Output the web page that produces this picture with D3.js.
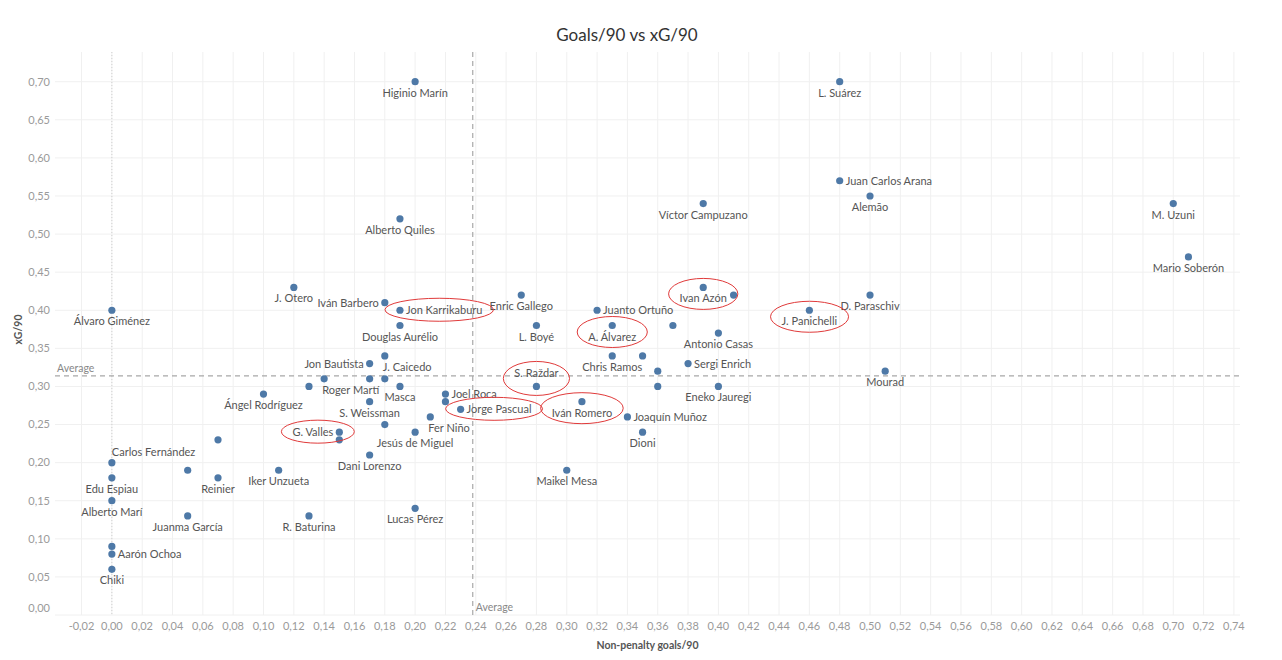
<!DOCTYPE html>
<html>
<head>
<meta charset="utf-8">
<script src="https://cdn.jsdelivr.net/npm/d3@7"></script>
<style>
  body { margin: 0; background: #fff; font-family: Lato, "Open Sans", sans-serif; }
</style>
</head>
<body>
<div id="chart"></div>
<script>
// Jugadors (cadena buida = punt sense etiqueta)
const players = [
    'Higinio Marín', 'L. Suárez', 'Juan Carlos Arana', 'Alemão', 'Víctor Campuzano', 'M. Uzuni',
    'Mario Soberón', 'Alberto Quiles', 'J. Otero', 'Álvaro Giménez', 'Iván Barbero', 'Jon Karrikaburu',
    'Douglas Aurélio', 'Enric Gallego', 'L. Boyé', 'Juanto Ortuño', 'A. Álvarez', '',
    'Ivan Azón', '', 'Antonio Casas', 'J. Panichelli', 'D. Paraschiv', 'Mourad',
    'Chris Ramos', '', 'Sergi Enrich', '', '', 'Eneko Jauregi',
    'S. Raždar', 'Iván Romero', 'Joaquín Muñoz', 'Dioni', 'Maikel Mesa', 'Jorge Pascual',
    'Joel Roca', '', 'Fer Niño', 'Jesús de Miguel', 'Lucas Pérez', 'Masca',
    'J. Caicedo', 'Jon Bautista', '', '', 'Roger Martí', '',
    'S. Weissman', '', 'G. Valles', '', 'Dani Lorenzo', '',
    'Ángel Rodríguez', 'Carlos Fernández', 'Edu Espiau', 'Alberto Marí', '', 'Aarón Ochoa',
    'Chiki', '', 'Reinier', 'Iker Unzueta', 'Juanma García', 'R. Baturina'
];
const npg90 = [
    0.20, 0.48, 0.48, 0.50, 0.39, 0.70,
    0.71, 0.19, 0.12, 0.00, 0.18, 0.19,
    0.19, 0.27, 0.28, 0.32, 0.33, 0.37,
    0.39, 0.41, 0.40, 0.46, 0.50, 0.51,
    0.33, 0.35, 0.38, 0.36, 0.36, 0.40,
    0.28, 0.31, 0.34, 0.35, 0.30, 0.23,
    0.22, 0.22, 0.21, 0.20, 0.20, 0.19,
    0.18, 0.17, 0.17, 0.18, 0.14, 0.13,
    0.17, 0.18, 0.15, 0.15, 0.17, 0.07,
    0.10, 0.00, 0.00, 0.00, 0.00, 0.00,
    0.00, 0.05, 0.07, 0.11, 0.05, 0.13
];
const xg90 = [
    0.70, 0.70, 0.57, 0.55, 0.54, 0.54,
    0.47, 0.52, 0.43, 0.40, 0.41, 0.40,
    0.38, 0.42, 0.38, 0.40, 0.38, 0.38,
    0.43, 0.42, 0.37, 0.40, 0.42, 0.32,
    0.34, 0.34, 0.33, 0.32, 0.30, 0.30,
    0.30, 0.28, 0.26, 0.24, 0.19, 0.27,
    0.29, 0.28, 0.26, 0.24, 0.14, 0.30,
    0.34, 0.33, 0.31, 0.31, 0.31, 0.30,
    0.28, 0.25, 0.24, 0.23, 0.21, 0.23,
    0.29, 0.20, 0.18, 0.15, 0.09, 0.08,
    0.06, 0.19, 0.18, 0.19, 0.13, 0.13
];
// Posició de l'etiqueta: b sota, t damunt, r dreta, l esquerra, br sota-dreta, tr damunt-dreta
const labelPos = [
    'b', 'b', 'r', 'b', 'b', 'b',
    'b', 'b', 'b', 'b', 'l', 'r',
    'b', 'b', 'b', 'r', 'b', '',
    'b', '', 'b', 'b', 'b', 'b',
    'b', '', 'r', '', '', 'b',
    't', 'b', 'r', 'b', 'b', 'r',
    'r', '', 'br', 'b', 'b', 'b',
    'br', 'l', '', '', 'br', '',
    'b', '', 'l', '', 'b', '',
    'b', 'tr', 'b', 'b', '', 'r',
    'b', '', 'b', 'b', 'b', 'b'
];
const highlighted = ['Jon Karrikaburu', 'A. Álvarez', 'Ivan Azón', 'J. Panichelli', 'S. Raždar', 'Iván Romero', 'Jorge Pascual', 'G. Valles'];
const avgNpg90 = 0.238;
const avgXg90 = 0.314;

const W = 1282, H = 660;
const plot = { left: 55, right: 1240, top: 52, bottom: 615 };

const rows = players.map((name, i) => ({ name, gx: npg90[i], xg: xg90[i], pos: labelPos[i] }));

const x = d3.scaleLinear().domain([-0.0375, 0.744]).range([plot.left, plot.right]);
const y = d3.scaleLinear().domain([0, 0.739]).range([plot.bottom, plot.top]);

const loc = d3.formatLocale({ decimal: ',', thousands: '.', grouping: [3], currency: ['', '€'], minus: '-' });
const fmt = loc.format('.2f');

const svg = d3.select('#chart').append('svg')
    .attr('width', W)
    .attr('height', H);

// Graella
const xTicks = x.ticks(40);
const yTicks = y.ticks(15);

svg.append('g').selectAll('line')
    .data(xTicks)
    .enter().append('line')
    .attr('x1', d => x(d)).attr('x2', d => x(d))
    .attr('y1', plot.top).attr('y2', plot.bottom)
    .attr('stroke', '#f0f0f0');

svg.append('g').selectAll('line')
    .data(yTicks)
    .enter().append('line')
    .attr('x1', plot.left).attr('x2', plot.right)
    .attr('y1', d => y(d)).attr('y2', d => y(d))
    .attr('stroke', '#f0f0f0');

// Línia del zero
svg.append('line')
    .attr('x1', x(0)).attr('x2', x(0))
    .attr('y1', plot.top).attr('y2', plot.bottom)
    .attr('stroke', '#cfcfcf')
    .attr('stroke-dasharray', '1,2');

// Etiquetes dels eixos
svg.append('g').selectAll('text')
    .data(yTicks)
    .enter().append('text')
    .attr('x', plot.left - 5)
    .attr('y', d => Math.min(y(d), plot.bottom - 7))
    .attr('dy', '0.35em')
    .attr('text-anchor', 'end')
    .attr('font-size', 11)
    .attr('fill', '#9a9a9a')
    .text(d => fmt(d));

svg.append('g').selectAll('text')
    .data(xTicks)
    .enter().append('text')
    .attr('x', d => x(d))
    .attr('y', plot.bottom + 15)
    .attr('text-anchor', 'middle')
    .attr('font-size', 11)
    .attr('fill', '#9a9a9a')
    .text(d => fmt(d));

svg.append('text')
    .attr('x', (plot.left + plot.right) / 2)
    .attr('y', 649)
    .attr('text-anchor', 'middle')
    .attr('font-size', 10.5)
    .attr('font-weight', 'bold')
    .attr('fill', '#555')
    .text('Non-penalty goals/90');

svg.append('text')
    .attr('transform', `translate(22,${(plot.top + plot.bottom) / 2 - 4}) rotate(-90)`)
    .attr('text-anchor', 'middle')
    .attr('font-size', 10.5)
    .attr('font-weight', 'bold')
    .attr('fill', '#555')
    .text('xG/90');

svg.append('text')
    .attr('x', 627)
    .attr('y', 41)
    .attr('text-anchor', 'middle')
    .attr('font-size', 17)
    .attr('fill', '#333')
    .text('Goals/90 vs xG/90');

// Mitjanes
svg.append('line')
    .attr('x1', plot.left).attr('x2', plot.right)
    .attr('y1', y(avgXg90)).attr('y2', y(avgXg90))
    .attr('stroke', '#a8a8a8')
    .attr('stroke-width', 1.2)
    .attr('stroke-dasharray', '5,4');

svg.append('line')
    .attr('x1', x(avgNpg90)).attr('x2', x(avgNpg90))
    .attr('y1', plot.top).attr('y2', plot.bottom)
    .attr('stroke', '#a8a8a8')
    .attr('stroke-width', 1.2)
    .attr('stroke-dasharray', '5,4');

svg.append('text')
    .attr('x', plot.left + 2)
    .attr('y', y(avgXg90) - 4)
    .attr('font-size', 10.5)
    .attr('fill', '#888')
    .text('Average');

svg.append('text')
    .attr('x', x(avgNpg90) + 3)
    .attr('y', plot.bottom - 4)
    .attr('font-size', 10.5)
    .attr('fill', '#888')
    .text('Average');

// Punts
svg.append('g').selectAll('circle')
    .data(rows)
    .enter().append('circle')
    .attr('cx', d => x(d.gx))
    .attr('cy', d => y(d.xg))
    .attr('r', 3.6)
    .attr('fill', '#4e79a7');

const place = {
    b: { dx: 0, dy: 15, anchor: 'middle' },
    t: { dx: 0, dy: -9, anchor: 'middle' },
    r: { dx: 6, dy: 4, anchor: 'start' },
    l: { dx: -6, dy: 4, anchor: 'end' },
    br: { dx: -2, dy: 15, anchor: 'start' },
    tr: { dx: 0, dy: -7, anchor: 'start' }
};

const labels = svg.append('g').selectAll('text')
    .data(rows.filter(d => d.name))
    .enter().append('text')
    .attr('x', d => x(d.gx) + place[d.pos].dx)
    .attr('y', d => y(d.xg) + place[d.pos].dy)
    .attr('text-anchor', d => place[d.pos].anchor)
    .attr('font-size', 11)
    .attr('fill', '#555')
    .text(d => d.name);

// Cercles vermells al voltant dels jugadors destacats
labels.filter(d => highlighted.includes(d.name)).each(function (d) {
    const b = this.getBBox();
    const cx0 = x(d.gx), cy0 = y(d.xg);
    const x0 = Math.min(b.x, cx0 - 4), x1 = Math.max(b.x + b.width, cx0 + 4);
    const y0 = Math.min(b.y, cy0 - 4), y1 = Math.max(b.y + b.height, cy0 + 4);
    svg.append('ellipse')
        .attr('cx', (x0 + x1) / 2)
        .attr('cy', (y0 + y1) / 2)
        .attr('rx', (x1 - x0) / 2 + 11)
        .attr('ry', (y1 - y0) / 2 + 5)
        .attr('fill', 'none')
        .attr('stroke', '#e03a3a')
        .attr('stroke-width', 1);
});
</script>
</body>
</html>
